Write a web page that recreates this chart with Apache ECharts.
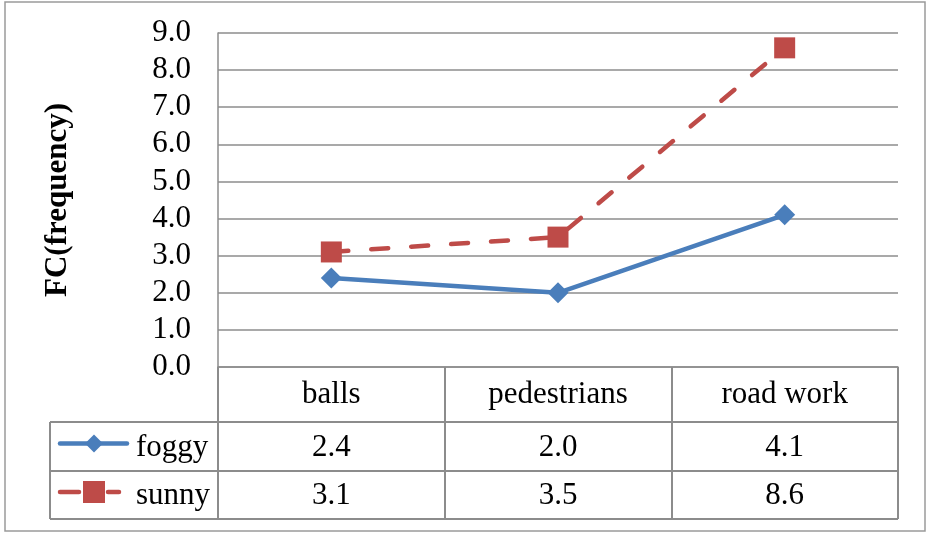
<!DOCTYPE html>
<html>
<head>
<meta charset="utf-8">
<script src="https://cdn.jsdelivr.net/npm/echarts@6.0.0/dist/echarts.min.js"></script>
<style>
  html, body { margin: 0; padding: 0; background: #fff; }
  #chart { width: 927px; height: 533px; }
</style>
</head>
<body>
<div id="chart"></div>
<script>
// Hazard categories and observed frequency per weather condition
var categories = ['balls', 'pedestrians', 'road work'];
var foggy = [2.4, 2.0, 4.1];
var sunny = [3.1, 3.5, 8.6];
var seriesNames = ['foggy', 'sunny'];
var yTicks = { min: 0, max: 9, interval: 1 };
var yTitle = 'FC(frequency)';

var FONT = '"Liberation Serif", "Times New Roman", serif';
var GRID_COLOR = '#8c8c8c';
var BLUE = '#4A7EBB';
var RED = '#BE4B48';

// table geometry (rows below the plot area)
var tableLeft = 50;
var headerBottom = 422;
var row1Bottom = 471;
var row2Bottom = 519;

var chart = echarts.init(document.getElementById('chart'), null, { renderer: 'canvas' });

chart.setOption({
  animation: false,
  backgroundColor: '#ffffff',
  grid: { left: 218, right: 29, top: 33, bottom: 166, containLabel: false },
  xAxis: {
    type: 'category',
    data: categories,
    boundaryGap: true,
    axisLine: { show: true, lineStyle: { color: GRID_COLOR, width: 1.5 } },
    axisTick: {
      show: true, interval: 0, inside: false, length: row2Bottom - 367,
      lineStyle: { color: GRID_COLOR, width: 2 }
    },
    axisLabel: {
      show: true, interval: 0, margin: 28, verticalAlign: 'middle',
      fontFamily: FONT, fontSize: 31, color: '#000'
    },
    splitLine: { show: false }
  },
  yAxis: {
    type: 'value',
    min: yTicks.min, max: yTicks.max, interval: yTicks.interval,
    name: yTitle,
    nameLocation: 'middle',
    nameRotate: 90,
    nameGap: 145,
    nameTextStyle: { fontFamily: FONT, fontSize: 31, fontWeight: 'bold', color: '#000' },
    axisLine: { show: true, lineStyle: { color: GRID_COLOR, width: 1.5 } },
    axisTick: { show: false },
    axisLabel: {
      margin: 27, fontFamily: FONT, fontSize: 31, color: '#000',
      formatter: function (v) { return v.toFixed(1); }
    },
    splitLine: { show: true, lineStyle: { color: GRID_COLOR, width: 1.5 } }
  },
  series: [
    {
      name: seriesNames[0], type: 'line', data: foggy,
      symbol: 'diamond', symbolSize: 21, showSymbol: true,
      itemStyle: { color: BLUE },
      lineStyle: { color: BLUE, width: 4.5, cap: 'round' },
      z: 3
    },
    {
      name: seriesNames[1], type: 'line', data: sunny,
      symbol: 'rect', symbolSize: 21, showSymbol: true,
      itemStyle: { color: RED },
      lineStyle: { color: RED, width: 4.5, type: [17, 23], cap: 'round' },
      z: 4
    }
  ]
});

// Data table below the axis: row lines, series keys and values
function buildTable() {
  var right = chart.convertToPixel({ xAxisIndex: 0 }, categories.length - 1);
  var first = chart.convertToPixel({ xAxisIndex: 0 }, 0);
  var band = categories.length > 1 ? (right - first) / (categories.length - 1) : 0;
  var tableRight = right + band / 2;
  var lineStyle = { stroke: GRID_COLOR, lineWidth: 2 };
  var g = [];

  // outer chart frame
  g.push({ type: 'rect', shape: { x: 5, y: 2, width: 920, height: 529 },
    style: { fill: null, stroke: '#9a9a9a', lineWidth: 1.5 }, z: 0 });

  [headerBottom, row1Bottom, row2Bottom].forEach(function (y) {
    g.push({ type: 'line', shape: { x1: tableLeft, y1: y, x2: tableRight, y2: y }, style: lineStyle, z: 10 });
  });
  g.push({ type: 'line', shape: { x1: tableLeft, y1: headerBottom, x2: tableLeft, y2: row2Bottom }, style: lineStyle, z: 10 });

  var rows = [
    { name: seriesNames[0], values: foggy, top: headerBottom, bottom: row1Bottom },
    { name: seriesNames[1], values: sunny, top: row1Bottom, bottom: row2Bottom }
  ];
  rows.forEach(function (r, ri) {
    var cy = (r.top + r.bottom) / 2 + 1;
    r.values.forEach(function (v, i) {
      var cx = chart.convertToPixel({ xAxisIndex: 0 }, i);
      g.push({ type: 'text', x: cx, y: cy, z: 10,
        style: { text: v.toFixed(1), fontFamily: FONT, fontSize: 31, fill: '#000', align: 'center', verticalAlign: 'middle' } });
    });
    g.push({ type: 'text', x: 136, y: cy, z: 10,
      style: { text: r.name, fontFamily: FONT, fontSize: 31, fill: '#000', align: 'left', verticalAlign: 'middle' } });

    var ky = cy - 4;
    if (ri === 0) {
      g.push({ type: 'line', shape: { x1: 60, y1: ky, x2: 127, y2: ky },
        style: { stroke: BLUE, lineWidth: 4.5, lineCap: 'round' }, z: 11 });
      g.push({ type: 'polygon', shape: { points: [[94, ky - 9], [103, ky], [94, ky + 9], [85, ky]] },
        style: { fill: BLUE }, z: 12 });
    } else {
      g.push({ type: 'line', shape: { x1: 60, y1: ky, x2: 79, y2: ky },
        style: { stroke: RED, lineWidth: 4.5, lineCap: 'round' }, z: 11 });
      g.push({ type: 'line', shape: { x1: 108, y1: ky, x2: 119, y2: ky },
        style: { stroke: RED, lineWidth: 4.5, lineCap: 'round' }, z: 11 });
      g.push({ type: 'rect', shape: { x: 83, y: ky - 11, width: 22, height: 22 },
        style: { fill: RED }, z: 12 });
    }
  });
  chart.setOption({ graphic: g });
}
buildTable();
</script>
</body>
</html>
